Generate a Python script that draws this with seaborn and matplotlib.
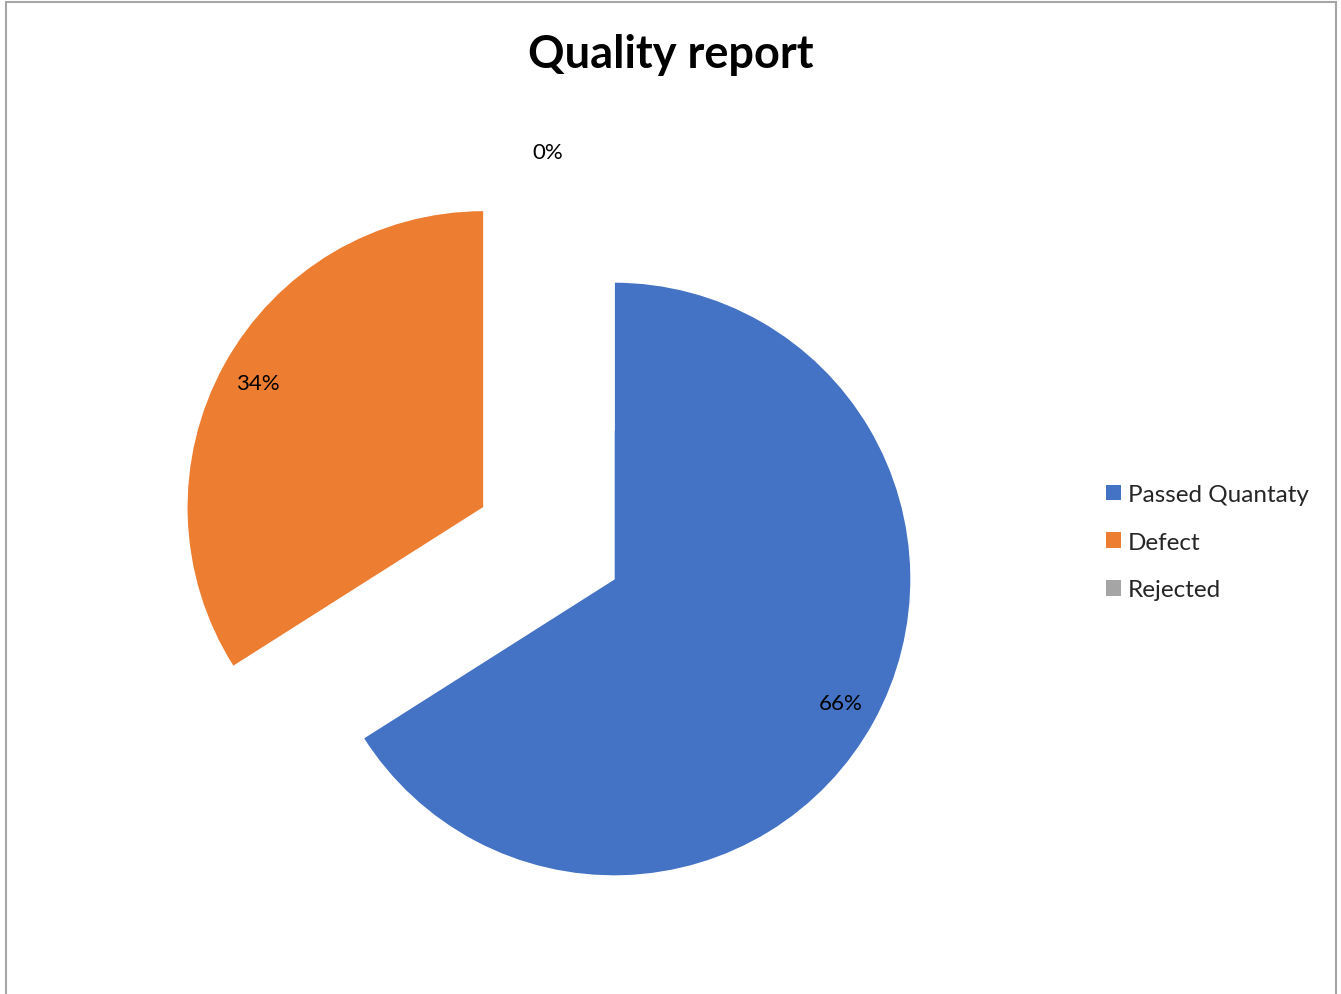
import matplotlib
matplotlib.use("Agg")
import matplotlib.pyplot as plt
from matplotlib.patches import Rectangle, Patch
import seaborn as sns

# Quality report data
categories = ["Passed Quantaty", "Defect", "Rejected"]
shares = [66, 34, 0]
colors = ["#4472C4", "#ED7D31", "#A5A5A5"]
explode = [0, 0.5, 0.5]

sns.set_theme(style="white")
plt.rcParams["font.family"] = ["Lato", "DejaVu Sans"]

W, H = 1341, 995
fig = plt.figure(figsize=(W / 100, H / 100), dpi=100)
fig.patch.set_facecolor("white")

# axes covering the whole figure; one data unit = pie radius in pixels
R = 297.0
cx, cy = 614.0, 580.0
ax = fig.add_axes([0, 0, 1, 1])

wedges, texts, autotexts = ax.pie(
    shares,
    colors=colors,
    explode=explode,
    startangle=90,
    counterclock=False,
    autopct="%1.0f%%",
    pctdistance=0.87,
    radius=1.0,
    frame=True,
    textprops=dict(fontsize=16, color="black"),
)
ax.set_xlim(-cx / R, (W - cx) / R)
ax.set_ylim(-(H - cy) / R, cy / R)
ax.set_aspect("auto")
ax.axis("off")

# the empty slice label sits above the pie
autotexts[2].set_position(((548 - cx) / R, (cy - 153) / R))

fig.text(671 / W, 1 - 55 / H, "Quality report", ha="center", va="center",
         fontsize=32.5, fontweight="bold", color="black")

handles = [Patch(facecolor=c, edgecolor="none") for c in colors]
fig.legend(
    handles, categories,
    loc="upper left",
    bbox_to_anchor=(1106 / W, 1 - 485 / H),
    frameon=False,
    fontsize=17.5,
    handlelength=0.6,
    handleheight=0.6,
    handletextpad=0.3,
    labelspacing=1.1,
    borderaxespad=0,
    borderpad=0,
)

# chart border
fig.add_artist(Rectangle((6 / W, -0.05), (1336 - 6) / W, 1.05 - 3 / H,
                         transform=fig.transFigure, fill=False,
                         edgecolor="#A6A6A6", linewidth=1.5))

fig.savefig("out.png", dpi=100, facecolor="white")
